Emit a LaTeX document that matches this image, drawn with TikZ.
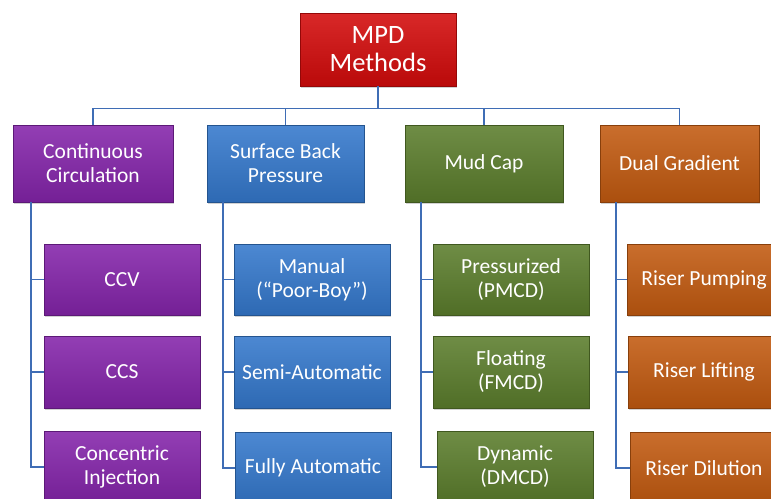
\documentclass[tikz,border=0pt]{standalone}
\usepackage{fontspec}
\setmainfont{Carlito}
\usetikzlibrary{shadows}
\definecolor{cred}{HTML}{D30B0B}
\definecolor{cpurple}{HTML}{8424AA}
\definecolor{cblue}{HTML}{3478CC}
\definecolor{cgreen}{HTML}{5B7D2C}
\definecolor{corange}{HTML}{C25A10}
\definecolor{cline}{HTML}{3F6DB5}
\tikzset{
  box/.style={draw=#1!70!black, line width=0.6pt, top color=#1!88!white, bottom color=#1!88!black,
    text=white, align=center, inner sep=2pt, font=\fontsize{21.5}{24}\selectfont,
    drop shadow={shadow xshift=1.2pt, shadow yshift=-1.6pt, opacity=0.35}},
  topbox/.style={box=#1, minimum width=156pt, minimum height=73pt, font=\fontsize{26.5}{28}\selectfont},
  catbox/.style={box=#1, minimum height=77pt},
  leafbox/.style={box=#1, minimum width=156pt},
  conn/.style={draw=cline, line width=1.6pt},
}
\begin{document}
\begin{tikzpicture}[x=1pt,y=-1pt]
\useasboundingbox (0,0) rectangle (771,498);
\clip (0,0) rectangle (771,498);
\fill[white] (0,0) rectangle (771,498);

% top
\node[topbox=cred] (top) at (378,49.5) {MPD\\Methods};

% categories
\node[catbox=cpurple, minimum width=160pt] (cc) at (93,163.5) {Continuous\\Circulation};
\node[catbox=cblue, minimum width=157pt] (sbp) at (285.5,163.5) {Surface Back\\Pressure};
\node[catbox=cgreen, minimum width=158pt] (mc) at (484,163.5) {Mud Cap};
\node[catbox=corange, minimum width=159pt] (dg) at (679.5,163.5) {Dual Gradient};

% children
\node[leafbox=cpurple, minimum height=71pt] (ccv) at (122,279.5) {CCV};
\node[leafbox=cpurple, minimum height=72pt] (ccs) at (122,372) {CCS};
\node[leafbox=cpurple, minimum height=72pt] (ci) at (122,467) {Concentric\\Injection};

\node[leafbox=cblue, minimum height=71pt] (man) at (312,279.5) {Manual\\(“Poor-Boy”)};
\node[leafbox=cblue, minimum height=72pt] (semi) at (312,372) {Semi-Automatic};
\node[leafbox=cblue, minimum height=72pt] (full) at (313,468) {Fully Automatic};

\node[leafbox=cgreen, minimum height=71pt] (pmcd) at (511,279.5) {Pressurized\\(PMCD)};
\node[leafbox=cgreen, minimum height=72pt] (fmcd) at (511,372) {Floating\\(FMCD)};
\node[leafbox=cgreen, minimum height=72pt] (dmcd) at (515,467) {Dynamic\\(DMCD)};

\node[leafbox=corange, minimum height=71pt, minimum width=160pt] (rp) at (707,279.5) {\hspace*{-6pt}Riser Pumping};
\node[leafbox=corange, minimum height=72pt, minimum width=160pt] (rl) at (708,372) {\hspace*{-8pt}Riser Lifting};
\node[leafbox=corange, minimum height=72pt, minimum width=160pt] (rd) at (710,468) {\hspace*{-12pt}Riser Dilution};

% bus
\draw[conn] (top.south) -- ++(0,22) coordinate (bus);
\draw[conn] (bus -| cc.north) -- (cc.north);
\draw[conn] (bus -| sbp.north) -- (sbp.north);
\draw[conn] (bus -| mc.north) -- (mc.north);
\draw[conn] (bus -| dg.north) -- (dg.north);
\draw[conn] (bus -| cc.north) -- (bus -| dg.north);

% spines
\draw[conn] ([xshift=18pt]cc.south west) |- (ci.west);
\draw[conn] ([xshift=18pt]cc.south west |- ccv.west) -- (ccv.west);
\draw[conn] ([xshift=18pt]cc.south west |- ccs.west) -- (ccs.west);

\draw[conn] ([xshift=16pt]sbp.south west) |- (full.west);
\draw[conn] ([xshift=16pt]sbp.south west |- man.west) -- (man.west);
\draw[conn] ([xshift=16pt]sbp.south west |- semi.west) -- (semi.west);

\draw[conn] ([xshift=16pt]mc.south west) |- (dmcd.west);
\draw[conn] ([xshift=16pt]mc.south west |- pmcd.west) -- (pmcd.west);
\draw[conn] ([xshift=16pt]mc.south west |- fmcd.west) -- (fmcd.west);

\draw[conn] ([xshift=16pt]dg.south west) |- (rd.west);
\draw[conn] ([xshift=16pt]dg.south west |- rp.west) -- (rp.west);
\draw[conn] ([xshift=16pt]dg.south west |- rl.west) -- (rl.west);
\end{tikzpicture}
\end{document}
